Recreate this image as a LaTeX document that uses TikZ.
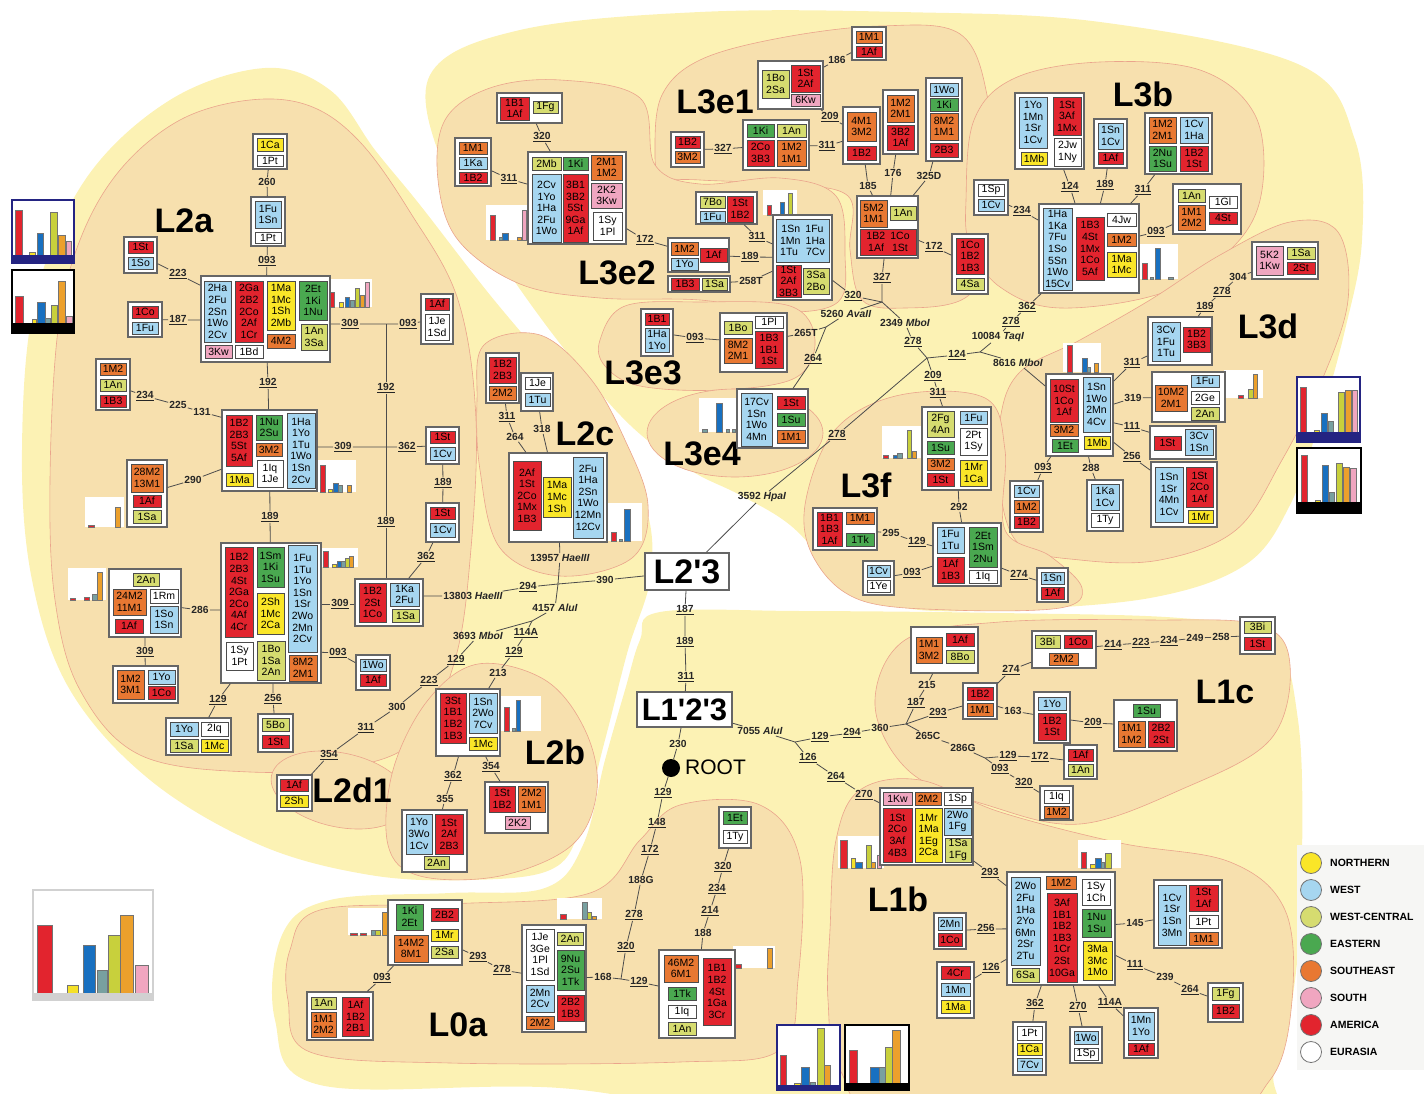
\documentclass[tikz,border=0pt]{standalone}
\usepackage{fontspec}
\setmainfont{Liberation Sans}
\usetikzlibrary{calc}
\definecolor{rd}{RGB}{226,36,46}
\definecolor{bl}{RGB}{166,214,240}
\definecolor{ye}{RGB}{250,230,40}
\definecolor{wc}{RGB}{214,220,112}
\definecolor{gn}{RGB}{74,168,80}
\definecolor{og}{RGB}{232,120,50}
\definecolor{pk}{RGB}{240,166,192}
\definecolor{wh}{RGB}{255,255,255}
\definecolor{tl}{RGB}{120,160,160}
\definecolor{cb}{RGB}{24,112,192}
\definecolor{cy}{RGB}{245,225,40}
\definecolor{cw}{RGB}{200,208,60}
\definecolor{co}{RGB}{236,160,44}
\definecolor{bgy}{RGB}{252,242,180}
\definecolor{tanr}{RGB}{247,224,174}
\definecolor{tanb}{RGB}{234,164,140}
\definecolor{navy}{RGB}{36,36,130}
\definecolor{lgd}{RGB}{246,246,244}
\newcounter{cc}
\newcommand\Grp[5]{\node[grp, minimum width={#4-#2}, minimum height={#5-#3}] (#1) at ({(#2+#4)/2},{(#3+#5)/2}) {};}
\newcommand\Cl[6]{\stepcounter{cc}\node[cel, fill=#5, minimum width={#3-#1}, minimum height={#4-#2}] (q\arabic{cc}) at ({(#1+#3)/2},{(#2+#4)/2}) {#6};}
\newcommand\Lb[4]{\node[lb] (#1) at (#2,#3) {#4};}
\newcommand\Lu[4]{\node[lb] (#1) at (#2,#3) {\underline{#4}};}
\newcommand\MiniC[5]{\fill[white] (#1,#2) rectangle (#3,#4);
  \foreach \qa/\qb/\qt/\qc in {#5}{\filldraw[fill=\qc, draw=black!55, line width=0.3pt] (\qa,\qt) rectangle (\qb,#4);}}
\newcommand\FramC[7]{\fill[white] (#1,#2) rectangle (#3,#4);
  \foreach \qa/\qb/\qt/\qc in {#7}{\filldraw[fill=\qc, draw=black!55, line width=0.3pt] (\qa,\qt) rectangle (\qb,#6);}
  \fill[#5] (#1,#6) rectangle (#3,#4);
  \draw[#5, line width=1.8pt] (#1,#2) rectangle (#3,#4);}
\begin{document}
\begin{tikzpicture}[x=1pt,y=-1pt,
  grp/.style={draw=black!60, line width=1.4pt, fill=white, inner sep=0pt},
  cel/.style={draw=black!70, line width=0.8pt, inner sep=0pt, align=center, font=\fontsize{10.5}{11.6}\selectfont, text=black},
  lb/.style={font=\bfseries\fontsize{10.3}{11}\selectfont, inner sep=1pt, text=black!85},
  big/.style={font=\bfseries\fontsize{34}{34}\selectfont, inner sep=0pt},
  bigbox/.style={draw=black!60, line width=1.8pt, fill=white, inner sep=0pt},
  cn/.style={draw=black!70, line width=0.8pt},
  reg/.style={fill=tanr, draw=tanb, line width=0.6pt}]
\useasboundingbox (0,0) rectangle (1424,1094);
\clip (0,0) rectangle (1424,1094);
% ---------- backgrounds ----------
\fill[bgy] plot[smooth cycle, tension=0.6] coordinates {(22,450) (35,300) (85,180) (170,100) (265,68) (330,90) (375,150) (420,205) (490,295) (560,378) (615,445) (648,515) (650,580) (628,650) (605,740) (580,830) (550,870) (470,880) (370,875) (260,845) (150,780) (70,690) (32,580)};
\fill[bgy] plot[smooth cycle, tension=0.6] coordinates {(430,75) (520,30) (700,12) (900,12) (1100,22) (1300,65) (1355,140) (1362,240) (1345,330) (1320,420) (1290,505) (1245,565) (1150,598) (1000,610) (900,607) (840,575) (790,525) (740,495) (690,470) (630,425) (565,350) (500,260) (445,170)};
\fill[bgy] plot[smooth cycle, tension=0.6] coordinates {(660,612) (800,611) (1000,613) (1180,618) (1270,635) (1298,720) (1302,860) (1295,980) (1275,1070) (1230,1120) (800,1120) (560,1088) (320,1085) (275,1020) (282,935) (330,900) (450,893) (545,888) (583,845) (605,760) (625,690) (640,640)};
\filldraw[reg] plot[smooth cycle, tension=0.6] coordinates {(50,480) (58,330) (80,240) (120,170) (180,120) (250,100) (310,106) (360,142) (410,212) (458,300) (476,420) (470,560) (455,660) (420,735) (360,765) (250,772) (140,755) (80,690) (55,600)};
\filldraw[reg] plot[smooth cycle, tension=0.6] coordinates {(484,345) (540,335) (590,378) (625,440) (648,505) (632,558) (560,576) (500,548) (480,470) (477,400)};
\filldraw[reg, rotate around={-12:(340,790)}] (340,790) ellipse [x radius=70, y radius=37];
\filldraw[reg] plot[smooth cycle, tension=0.6] coordinates {(478,664) (545,680) (585,730) (597,790) (572,845) (500,876) (420,876) (388,845) (393,770) (428,700)};
\filldraw[reg] plot[smooth cycle, tension=0.6] coordinates {(655,150) (662,95) (700,60) (780,38) (880,26) (960,34) (988,100) (992,190) (996,250) (965,298) (905,308) (862,300) (850,250) (848,196) (780,184) (700,180) (662,176)};
\filldraw[reg] plot[smooth cycle, tension=0.6] coordinates {(438,180) (445,120) (490,88) (560,80) (640,98) (655,165) (700,184) (780,178) (836,196) (845,255) (838,302) (780,312) (700,300) (600,298) (520,284) (458,240)};
\filldraw[reg] plot[smooth cycle, tension=0.6] coordinates {(600,340) (625,306) (700,302) (790,306) (815,340) (795,378) (720,390) (640,386) (605,366)};
\filldraw[reg] (735,433) ellipse [x radius=88, y radius=44];
\filldraw[reg] plot[smooth cycle, tension=0.6] coordinates {(966,200) (974,120) (1015,78) (1100,62) (1200,70) (1255,115) (1262,190) (1235,245) (1165,292) (1060,308) (1000,287) (970,245)};
\filldraw[reg] plot[smooth cycle, tension=0.6] coordinates {(1000,420) (1020,372) (1080,340) (1150,300) (1220,255) (1290,222) (1338,232) (1348,300) (1322,380) (1282,460) (1236,530) (1160,560) (1080,560) (1020,545) (1000,490)};
\filldraw[reg] plot[smooth cycle, tension=0.6] coordinates {(805,505) (835,430) (900,395) (985,398) (1005,450) (1005,530) (1050,556) (1082,588) (1060,608) (950,610) (860,600) (815,560)};
\filldraw[reg] plot[smooth cycle, tension=0.6] coordinates {(875,705) (905,640) (1000,622) (1150,620) (1260,625) (1290,665) (1270,740) (1180,790) (1080,824) (990,806) (910,772)};
\filldraw[reg] plot[smooth cycle, tension=0.6] coordinates {(830,930) (836,840) (860,790) (920,780) (1000,812) (1120,843) (1230,862) (1285,910) (1292,1000) (1270,1080) (1200,1115) (900,1115) (840,1070) (828,1000)};
\filldraw[reg] plot[smooth cycle, tension=0.6] coordinates {(290,950) (320,910) (450,904) (590,893) (640,840) (680,805) (760,805) (800,860) (798,980) (780,1050) (680,1062) (450,1063) (310,1052) (288,1000)};
% ---------- region labels ----------
\node[big] (nL2a) at (184,221) {L2a};
\node[big] (nL3e1) at (715,102) {L3e1};
\node[big] (nL3b) at (1143,94) {L3b};
\node[big] (nL3e2) at (617,273) {L3e2};
\node[big] (nL3e3) at (643,373) {L3e3};
\node[big] (nL3d) at (1268,326) {L3d};
\node[big] (nL2c) at (585,434) {L2c};
\node[big] (nL3e4) at (702,454) {L3e4};
\node[big] (nL3f) at (866,485) {L3f};
\node[big] (nL1c) at (1225,692) {L1c};
\node[big] (nL2b) at (555,752) {L2b};
\node[big] (nL2d1) at (352,790) {L2d1};
\node[big] (nL1b) at (898,899) {L1b};
\node[big] (nL0a) at (458,1025) {L0a};
% ---------- charts ----------
\FramC{12}{200}{74}{263}{navy}{255}{15/22/210/rd, 29/35/252/cy, 37/43/233/cb, 50/57/212/cw, 58/65/235/co, 66/71/241/pk}
\FramC{12}{270}{74}{333}{black}{323}{15/23/296/rd, 32/36/319/cy, 37/45/302/cb, 45/50/318/tl, 51/57/305/cw, 58/65/281/co, 66/72/316/pk}
\FramC{1297}{377}{1360}{442}{navy}{432}{1300/1306/387/rd, 1314/1319/430/cy, 1321/1327/413/cb, 1328/1333/421/tl, 1338/1344/392/cw, 1345/1351/390/co, 1352/1357/390/pk}
\FramC{1297}{448}{1361}{513}{black}{502}{1301/1307/455/rd, 1315/1320/500/cy, 1322/1328/465/cb, 1329/1334/492/tl, 1336/1342/463/cw, 1343/1349/467/co, 1350/1356/468/pk}
\FramC{777}{1025}{840}{1090}{navy}{1085}{780/786/1055/rd, 794/800/1083/cy, 801/809/1067/cb, 810/815/1082/tl, 817/824/1028/cw, 824/830/1065/co}
\FramC{845}{1025}{909}{1090}{black}{1083}{849/857/1050/rd, 870/879/1067/cb, 879/885/1067/tl, 885/892/1047/cw, 892/900/1030/co}
\FramC{33}{890}{153}{1000}{black!18}{993}{37/52/925/rd, 67/78/985/cy, 83/95/945/cb, 97/107/970/tl, 108/120/935/cw, 120/133/915/co, 135/148/965/pk}
\MiniC{328}{279}{372}{307}{330/334/292/rd, 339/343/302/cy, 345/349/297/cb, 350/354/300/tl, 355/359/288/cw, 360/364/295/co, 365/369/282/pk}
\MiniC{318}{460}{356}{492}{320/325/465/rd, 328/332/489/cy, 333/338/483/cb, 338/342/485/tl, 347/351/485/co}
\MiniC{320}{548}{358}{567}{323/328/551/rd, 332/336/564/cy, 337/341/561/cb, 341/345/561/tl, 345/349/558/cw, 349/353/556/co}
\MiniC{85}{497}{124}{527}{88/94/525/rd, 115/120/507/co}
\MiniC{68}{568}{106}{600}{70/75/598/rd, 84/89/597/rd, 92/97/594/tl, 97/102/572/co}
\MiniC{607}{503}{642}{541}{611/616/532/rd, 619/622/539/tl, 624/630/509/cb}
\MiniC{501}{696}{541}{731}{504/509/707/rd, 512/515/728/tl, 516/520/700/cb}
\MiniC{486}{205}{527}{240}{490/495/215/rd, 499/502/237/tl, 502/508/233/cb, 517/521/237/co, 522/526/210/pk}
\MiniC{763}{190}{797}{215}{767/771/205/rd, 780/784/202/cb, 788/792/193/cw}
\MiniC{1139}{244}{1178}{279}{1142/1147/263/rd, 1150/1153/277/tl, 1155/1160/248/cb, 1168/1173/277/tl}
\MiniC{1063}{343}{1101}{372}{1067/1072/345/rd, 1082/1087/358/cb, 1087/1090/367/tl, 1094/1098/363/co}
\MiniC{1224}{370}{1263}{398}{1238/1243/395/rd, 1248/1253/389/cw, 1253/1257/374/co}
\MiniC{699}{398}{737}{432}{702/707/429/tl, 716/722/403/cb, 726/729/429/tl, 732/735/429/tl}
\MiniC{882}{426}{921}{458}{883/888/455/rd, 893/897/455/cb, 897/902/453/tl, 907/911/430/cw, 912/916/451/co}
\MiniC{838}{836}{884}{868}{840/847/840/rd, 851/855/858/cy, 855/862/862/cb, 866/871/845/cw, 871/875/862/co, 877/881/855/pk}
\MiniC{1078}{840}{1121}{868}{1081/1086/852/rd, 1090/1095/864/cy, 1095/1101/858/cb, 1101/1104/862/tl, 1105/1111/853/cw}
\MiniC{348}{908}{389}{935}{350/357/933/rd, 360/366/933/rd, 371/375/930/tl, 375/380/930/cw, 382/387/912/co}
\MiniC{557}{898}{602}{919}{560/566/914/rd, 582/587/902/tl, 587/591/912/cw, 592/596/916/co}
\MiniC{733}{946}{775}{968}{735/741/964/rd, 767/772/948/co}
% ---------- L2a ----------
\Grp{a1}{253}{134}{287}{169}
\Cl{257}{138}{283}{151}{ye}{1Ca}
\Cl{257}{155}{283}{166}{wh}{1Pt}
\Grp{a2}{251}{197}{285}{246}
\Cl{255}{201}{281}{228}{bl}{1Fu\\1Sn}
\Cl{255}{232}{281}{243}{wh}{1Pt}
\Grp{a3}{201}{276}{330}{362}
\Cl{204}{281}{231}{342}{bl}{2Ha\\2Fu\\2Sn\\1Wo\\2Cv}
\Cl{235}{281}{263}{342}{rd}{2Ga\\2B2\\2Co\\2Af\\1Cr}
\Cl{267}{281}{295}{330}{ye}{1Ma\\1Mc\\1Sh\\2Mb}
\Cl{267}{334}{295}{348}{og}{4M2}
\Cl{299}{281}{327}{320}{gn}{2Et\\1Ki\\1Nu}
\Cl{301}{324}{327}{350}{wc}{1An\\3Sa}
\Cl{205}{345}{232}{358}{pk}{3Kw}
\Cl{235}{345}{263}{358}{wh}{1Bd}
\Grp{a4}{124}{237}{157}{273}
\Cl{128}{241}{153}{253}{rd}{1St}
\Cl{128}{257}{153}{269}{bl}{1So}
\Grp{a5}{128}{302}{162}{337}
\Cl{132}{306}{158}{318}{rd}{1Co}
\Cl{132}{322}{158}{334}{bl}{1Fu}
\Grp{a6}{96}{359}{130}{410}
\Cl{100}{363}{126}{375}{og}{1M2}
\Cl{100}{379}{126}{391}{wc}{1An}
\Cl{100}{395}{126}{407}{rd}{1B3}
\Grp{a7}{222}{410}{317}{491}
\Cl{226}{415}{252}{466}{rd}{1B2\\2B3\\5St\\5Af}
\Cl{256}{415}{282}{440}{gn}{1Nu\\2Su}
\Cl{256}{443}{282}{456}{og}{3M2}
\Cl{226}{473}{253}{486}{ye}{1Ma}
\Cl{257}{460}{283}{487}{wh}{1Iq\\1Je}
\Cl{287}{413}{315}{488}{bl}{1Ha\\1Yo\\1Tu\\1Wo\\1Sn\\2Cv}
\Grp{a8}{426}{427}{459}{464}
\Cl{430}{431}{455}{443}{rd}{1St}
\Cl{430}{447}{455}{460}{bl}{1Cv}
\Grp{a8b}{426}{503}{459}{542}
\Cl{430}{507}{455}{519}{rd}{1St}
\Cl{430}{523}{455}{537}{bl}{1Cv}
\Grp{a9}{421}{294}{453}{344}
\Cl{425}{298}{449}{310}{rd}{1Af}
\Cl{425}{314}{449}{340}{wh}{1Je\\1Sd}
\Grp{a10}{355}{579}{423}{626}
\Cl{359}{583}{386}{622}{rd}{1B2\\2St\\1Co}
\Cl{390}{583}{419}{606}{bl}{1Ka\\2Fu}
\Cl{392}{609}{419}{622}{wc}{1Sa}
\Grp{a11}{221}{543}{321}{683}
\Cl{225}{547}{253}{637}{rd}{1B2\\2B3\\4St\\2Ga\\2Co\\4Af\\4Cr}
\Cl{257}{547}{284}{587}{gn}{1Sm\\1Ki\\1Su}
\Cl{257}{593}{284}{634}{ye}{2Sh\\1Mc\\2Ca}
\Cl{226}{642}{253}{670}{wh}{1Sy\\1Pt}
\Cl{257}{641}{285}{680}{wc}{1Bo\\1Sa\\2An}
\Cl{288}{545}{317}{652}{bl}{1Fu\\1Tu\\1Yo\\1Sn\\1Sr\\2Wo\\2Mn\\2Cv}
\Cl{289}{655}{317}{681}{og}{8M2\\2M1}
\Grp{a12}{127}{460}{167}{527}
\Cl{131}{464}{163}{492}{og}{28M2\\13M1}
\Cl{133}{495}{161}{507}{rd}{1Af}
\Cl{133}{510}{161}{523}{wc}{1Sa}
\Grp{a13}{109}{569}{181}{637}
\Cl{133}{573}{159}{586}{wc}{2An}
\Cl{113}{589}{146}{615}{og}{24M2\\11M1}
\Cl{150}{589}{178}{603}{wh}{1Rm}
\Cl{150}{606}{178}{633}{bl}{1So\\1Sn}
\Cl{115}{619}{143}{633}{rd}{1Af}
\Grp{a14}{113}{666}{178}{703}
\Cl{117}{670}{144}{699}{og}{1M2\\3M1}
\Cl{148}{670}{175}{684}{bl}{1Yo}
\Cl{148}{686}{175}{699}{rd}{1Co}
\Grp{a15}{166}{718}{231}{755}
\Cl{170}{722}{198}{736}{bl}{1Yo}
\Cl{201}{722}{228}{736}{wh}{2Iq}
\Cl{170}{739}{198}{752}{wc}{1Sa}
\Cl{201}{739}{228}{752}{ye}{1Mc}
\Grp{a16}{258}{714}{293}{752}
\Cl{262}{718}{289}{731}{wc}{5Bo}
\Cl{262}{735}{289}{748}{rd}{1St}
\Grp{a17}{356}{655}{390}{690}
\Cl{360}{659}{386}{671}{bl}{1Wo}
\Cl{360}{674}{386}{686}{rd}{1Af}
% ---------- L2c, L2b, L2d1 ----------
\Grp{c1}{486}{353}{519}{403}
\Cl{489}{357}{516}{383}{rd}{1B2\\2B3}
\Cl{489}{386}{516}{400}{og}{2M2}
\Grp{c2}{521}{373}{553}{411}
\Cl{525}{377}{550}{389}{wh}{1Je}
\Cl{525}{393}{550}{406}{bl}{1Tu}
\Grp{c3}{509}{453}{607}{542}
\Cl{513}{461}{541}{530}{rd}{2Af\\1St\\2Co\\1Mx\\1B3}
\Cl{543}{477}{571}{517}{ye}{1Ma\\1Mc\\1Sh}
\Cl{573}{457}{603}{538}{bl}{2Fu\\1Ha\\2Sn\\1Wo\\12Mn\\12Cv}
\Grp{b1}{436}{689}{500}{756}
\Cl{440}{693}{466}{743}{rd}{3St\\1B1\\1B2\\1B3}
\Cl{469}{693}{497}{733}{bl}{1Sn\\2Wo\\7Cv}
\Cl{469}{737}{497}{750}{ye}{1Mc}
\Grp{b2}{402}{810}{467}{872}
\Cl{406}{814}{432}{854}{bl}{1Yo\\3Wo\\1Cv}
\Cl{435}{814}{463}{854}{rd}{1St\\2Af\\2B3}
\Cl{424}{856}{449}{869}{wc}{2An}
\Grp{b3}{485}{782}{548}{833}
\Cl{489}{786}{515}{812}{rd}{1St\\1B2}
\Cl{518}{786}{545}{812}{og}{2M2\\1M1}
\Cl{505}{816}{530}{829}{pk}{2K2}
\Grp{d1g}{277}{775}{312}{811}
\Cl{280}{779}{308}{791}{rd}{1Af}
\Cl{280}{795}{308}{807}{ye}{2Sh}
% ---------- L3e1 ----------
\Grp{e1a}{852}{27}{886}{60}
\Cl{856}{31}{882}{43}{og}{1M1}
\Cl{856}{46}{882}{57}{rd}{1Af}
\Grp{e1b}{758}{61}{823}{109}
\Cl{762}{70}{789}{98}{wc}{1Bo\\2Sa}
\Cl{791}{65}{820}{92}{rd}{1St\\2Af}
\Cl{791}{94}{820}{106}{pk}{6Kw}
\Grp{e1c}{843}{107}{880}{164}
\Cl{847}{112}{876}{141}{og}{4M1\\3M2}
\Cl{847}{146}{876}{160}{rd}{1B2}
\Grp{e1d}{883}{90}{918}{154}
\Cl{887}{95}{914}{122}{og}{1M2\\2M1}
\Cl{887}{125}{914}{150}{rd}{3B2\\1Af}
\Grp{e1e}{926}{78}{962}{161}
\Cl{930}{83}{958}{96}{bl}{1Wo}
\Cl{930}{98}{958}{111}{gn}{1Ki}
\Cl{930}{113}{958}{140}{og}{8M2\\1M1}
\Cl{930}{143}{958}{157}{rd}{2B3}
\Grp{e1f}{952}{234}{988}{294}
\Cl{956}{238}{984}{274}{rd}{1Co\\1B2\\1B3}
\Cl{956}{278}{984}{290}{wc}{4Sa}
\Grp{e1g}{743}{120}{809}{170}
\Cl{747}{124}{774}{137}{gn}{1Ki}
\Cl{777}{124}{806}{137}{wc}{1An}
\Cl{747}{140}{774}{166}{rd}{2Co\\3B3}
\Cl{777}{140}{806}{166}{og}{1M2\\1M1}
\Grp{e1h}{671}{132}{704}{167}
\Cl{675}{136}{700}{148}{rd}{1B2}
\Cl{675}{151}{700}{163}{og}{3M2}
\Grp{e1j}{857}{196}{918}{258}
\Cl{860}{200}{887}{227}{og}{5M2\\1M1}
\Cl{890}{206}{916}{220}{wc}{1An}
\Cl{860}{229}{916}{255}{rd}{1B2\enspace 1Co\\1Af\enspace\ 1St}
% ---------- L3e2, L3e3, L3e4 ----------
\Grp{e2a}{497}{93}{562}{123}
\Cl{500}{97}{529}{120}{rd}{1B1\\1Af}
\Cl{533}{101}{558}{113}{wc}{1Fg}
\Grp{e2b}{455}{138}{491}{186}
\Cl{459}{142}{487}{154}{og}{1M1}
\Cl{459}{157}{487}{169}{bl}{1Ka}
\Cl{459}{172}{487}{183}{rd}{1B2}
\Grp{e2m}{528}{152}{626}{244}
\Cl{532}{157}{561}{170}{wc}{2Mb}
\Cl{563}{157}{588}{170}{gn}{1Ki}
\Cl{591}{155}{622}{180}{og}{2M1\\1M2}
\Cl{591}{183}{622}{208}{pk}{2K2\\3Kw}
\Cl{593}{212}{622}{240}{wh}{1Sy\\1Pl}
\Cl{532}{174}{561}{242}{bl}{2Cv\\1Yo\\1Ha\\2Fu\\1Wo}
\Cl{563}{174}{588}{242}{rd}{3B1\\3B2\\5St\\9Ga\\1Af}
\Grp{e2c}{668}{238}{729}{272}
\Cl{671}{242}{698}{255}{og}{1M2}
\Cl{671}{258}{698}{270}{bl}{1Yo}
\Cl{700}{248}{727}{262}{rd}{1Af}
\Grp{e2d}{668}{276}{730}{292}
\Cl{671}{278}{699}{290}{rd}{1B3}
\Cl{702}{278}{727}{290}{wc}{1Sa}
\Grp{e2e}{696}{192}{757}{224}
\Cl{700}{196}{725}{208}{wc}{7Bo}
\Cl{700}{211}{725}{222}{bl}{1Fu}
\Cl{727}{196}{753}{222}{rd}{1St\\1B2}
\Grp{e2big}{773}{215}{832}{300}
\Cl{776}{219}{829}{262}{bl}{1Sn\enspace 1Fu\\1Mn\enspace 1Ha\\1Tu\enspace\ 7Cv}
\Cl{776}{265}{801}{297}{rd}{1St\\2Af\\3B3}
\Cl{803}{268}{829}{294}{wc}{3Sa\\2Bo}
\Grp{e3a}{641}{309}{673}{356}
\Cl{645}{313}{669}{325}{rd}{1B1}
\Cl{645}{328}{669}{352}{bl}{1Ha\\1Yo}
\Grp{e3b}{720}{313}{787}{372}
\Cl{724}{321}{752}{334}{wc}{1Bo}
\Cl{724}{338}{752}{363}{og}{8M2\\2M1}
\Cl{755}{316}{783}{328}{wh}{1Pl}
\Cl{755}{331}{783}{368}{rd}{1B3\\1B1\\1St}
\Grp{e4}{737}{389}{808}{448}
\Cl{741}{393}{772}{446}{bl}{17Cv\\1Sn\\1Wo\\4Mn}
\Cl{777}{396}{805}{409}{rd}{1St}
\Cl{777}{413}{805}{426}{gn}{1Su}
\Cl{777}{430}{805}{443}{og}{1M1}
% ---------- L3b ----------
\Grp{b1g}{1015}{93}{1084}{169}
\Cl{1019}{97}{1047}{148}{bl}{1Yo\\1Mn\\1Sr\\1Cv}
\Cl{1053}{97}{1081}{135}{rd}{1St\\3Af\\1Mx}
\Cl{1021}{152}{1047}{165}{ye}{1Mb}
\Cl{1054}{138}{1081}{166}{wh}{2Jw\\1Ny}
\Grp{b2g}{1094}{119}{1127}{168}
\Cl{1098}{123}{1123}{149}{bl}{1Sn\\1Cv}
\Cl{1098}{152}{1123}{164}{rd}{1Af}
\Grp{b3g}{1145}{113}{1212}{174}
\Cl{1149}{117}{1176}{143}{og}{1M2\\2M1}
\Cl{1180}{117}{1208}{143}{bl}{1Cv\\1Ha}
\Cl{1149}{146}{1176}{171}{gn}{2Nu\\1Su}
\Cl{1180}{146}{1208}{171}{rd}{1B2\\1St}
\Grp{b4g}{974}{180}{1008}{215}
\Cl{978}{184}{1004}{196}{wh}{1Sp}
\Cl{978}{199}{1004}{211}{bl}{1Cv}
\Grp{bm}{1039}{204}{1139}{293}
\Cl{1043}{208}{1072}{290}{bl}{1Ha\\1Ka\\7Fu\\1So\\5Sn\\1Wo\\15Cv}
\Cl{1076}{217}{1104}{280}{rd}{1B3\\4St\\1Mx\\1Co\\5Af}
\Cl{1107}{213}{1136}{226}{wh}{4Jw}
\Cl{1107}{233}{1136}{246}{og}{1M2}
\Cl{1107}{252}{1136}{277}{ye}{1Ma\\1Mc}
\Grp{b5g}{1173}{184}{1241}{234}
\Cl{1178}{189}{1205}{202}{wc}{1An}
\Cl{1178}{205}{1205}{230}{og}{1M1\\2M2}
\Cl{1209}{196}{1237}{208}{wh}{1Gl}
\Cl{1209}{212}{1237}{224}{rd}{4St}
% ---------- L3d ----------
\Grp{dm}{1046}{374}{1113}{456}
\Cl{1050}{379}{1078}{422}{rd}{10St\\1Co\\1Af}
\Cl{1083}{377}{1110}{432}{bl}{1Sn\\1Wo\\2Mn\\4Cv}
\Cl{1050}{424}{1078}{436}{og}{3M2}
\Cl{1052}{439}{1078}{452}{gn}{1Et}
\Cl{1084}{436}{1110}{449}{ye}{1Mb}
\Grp{dd1}{1148}{317}{1212}{365}
\Cl{1152}{322}{1180}{361}{bl}{3Cv\\1Fu\\1Tu}
\Cl{1183}{327}{1210}{352}{rd}{1B2\\3B3}
\Grp{dd2}{1252}{242}{1318}{279}
\Cl{1256}{246}{1283}{275}{pk}{5K2\\1Kw}
\Cl{1287}{247}{1315}{259}{wc}{1Sa}
\Cl{1287}{262}{1315}{274}{rd}{2St}
\Grp{dd3}{1152}{372}{1225}{422}
\Cl{1155}{385}{1187}{411}{og}{10M2\\2M1}
\Cl{1191}{375}{1219}{387}{bl}{1Fu}
\Cl{1191}{391}{1219}{404}{wh}{2Ge}
\Cl{1191}{407}{1219}{420}{wc}{2An}
\Grp{dd4}{1150}{426}{1216}{459}
\Cl{1154}{436}{1181}{450}{rd}{1St}
\Cl{1185}{429}{1213}{455}{bl}{3Cv\\1Sn}
\Grp{dd5}{1151}{462}{1217}{527}
\Cl{1155}{467}{1183}{522}{bl}{1Sn\\1Sr\\4Mn\\1Cv}
\Cl{1186}{467}{1213}{507}{rd}{1St\\2Co\\1Af}
\Cl{1188}{510}{1213}{523}{ye}{1Mr}
\Grp{dd6}{1010}{481}{1043}{532}
\Cl{1014}{485}{1039}{497}{bl}{1Cv}
\Cl{1014}{500}{1039}{513}{og}{1M2}
\Cl{1014}{516}{1039}{528}{rd}{1B2}
\Grp{dd7}{1087}{480}{1123}{531}
\Cl{1091}{484}{1119}{510}{bl}{1Ka\\1Cv}
\Cl{1091}{513}{1119}{527}{wh}{1Ty}
% ---------- L3f ----------
\Grp{fm}{922}{407}{991}{490}
\Cl{927}{411}{954}{437}{wc}{2Fg\\4An}
\Cl{960}{411}{987}{424}{bl}{1Fu}
\Cl{960}{428}{987}{455}{wh}{2Pt\\1Sy}
\Cl{927}{441}{954}{454}{gn}{1Su}
\Cl{927}{458}{954}{470}{og}{3M2}
\Cl{927}{473}{954}{486}{rd}{1St}
\Cl{960}{460}{987}{486}{ye}{1Mr\\1Ca}
\Grp{f1}{813}{508}{877}{550}
\Cl{817}{512}{842}{546}{rd}{1B1\\1B3\\1Af}
\Cl{846}{512}{874}{524}{og}{1M1}
\Cl{846}{533}{874}{546}{gn}{1Tk}
\Grp{f2}{933}{523}{1001}{586}
\Cl{937}{527}{964}{553}{bl}{1Fu\\1Tu}
\Cl{969}{527}{997}{567}{gn}{2Et\\1Sm\\2Nu}
\Cl{937}{557}{964}{583}{rd}{1Af\\1B3}
\Cl{969}{570}{997}{583}{wh}{1Iq}
\Grp{f3}{863}{561}{894}{595}
\Cl{867}{565}{890}{577}{bl}{1Cv}
\Cl{867}{580}{890}{592}{wh}{1Ye}
\Grp{f4}{1037}{568}{1068}{602}
\Cl{1041}{572}{1064}{584}{bl}{1Sn}
\Cl{1041}{587}{1064}{599}{rd}{1Af}
% ---------- L1c ----------
\Grp{g1}{911}{627}{978}{673}
\Cl{916}{637}{942}{663}{og}{1M1\\3M2}
\Cl{946}{633}{974}{646}{rd}{1Af}
\Cl{946}{650}{974}{663}{wc}{8Bo}
\Grp{g2}{963}{683}{997}{719}
\Cl{967}{687}{993}{700}{rd}{1B2}
\Cl{967}{703}{993}{716}{og}{1M1}
\Grp{g3}{1032}{631}{1096}{668}
\Cl{1035}{635}{1060}{648}{wc}{3Bi}
\Cl{1064}{635}{1092}{648}{rd}{1Co}
\Cl{1049}{653}{1078}{665}{og}{2M2}
\Grp{g4}{1240}{617}{1275}{654}
\Cl{1244}{621}{1271}{633}{wc}{3Bi}
\Cl{1244}{637}{1271}{650}{rd}{1St}
\Grp{g5}{1034}{692}{1070}{743}
\Cl{1038}{697}{1066}{710}{bl}{1Yo}
\Cl{1038}{713}{1066}{740}{rd}{1B2\\1St}
\Grp{g6}{1114}{700}{1177}{751}
\Cl{1133}{704}{1160}{717}{gn}{1Su}
\Cl{1118}{721}{1145}{747}{og}{1M1\\1M2}
\Cl{1148}{721}{1174}{747}{rd}{2B2\\2St}
\Grp{g7}{1064}{745}{1097}{779}
\Cl{1068}{749}{1093}{761}{rd}{1Af}
\Cl{1068}{764}{1093}{776}{wc}{1An}
\Grp{g8}{1040}{786}{1073}{820}
\Cl{1044}{790}{1069}{803}{wh}{1Iq}
\Cl{1044}{806}{1069}{818}{og}{1M2}
% ---------- L1b ----------
\Grp{h1}{880}{788}{973}{865}
\Cl{883}{792}{912}{805}{pk}{1Kw}
\Cl{915}{792}{941}{805}{og}{2M2}
\Cl{944}{792}{971}{805}{wh}{1Sp}
\Cl{883}{808}{912}{862}{rd}{1St\\2Co\\3Af\\4B3}
\Cl{915}{808}{942}{862}{ye}{1Mr\\1Ma\\1Eg\\2Ca}
\Cl{944}{808}{971}{835}{bl}{2Wo\\1Fg}
\Cl{945}{838}{971}{862}{wc}{1Sa\\1Fg}
\Grp{hm}{1007}{872}{1115}{985}
\Cl{1011}{877}{1040}{965}{bl}{2Wo\\2Fu\\1Ha\\2Yo\\6Mn\\2Sr\\2Tu}
\Cl{1012}{968}{1039}{982}{wc}{6Sa}
\Cl{1046}{876}{1076}{889}{og}{1M2}
\Cl{1047}{893}{1077}{982}{rd}{3Af\\1B1\\1B2\\1B3\\1Cr\\2St\\10Ga}
\Cl{1082}{879}{1110}{905}{wh}{1Sy\\1Ch}
\Cl{1082}{909}{1111}{937}{gn}{1Nu\\1Su}
\Cl{1083}{941}{1112}{980}{ye}{3Ma\\3Mc\\1Mo}
\Grp{h2}{934}{913}{966}{949}
\Cl{938}{917}{962}{930}{bl}{2Mn}
\Cl{938}{933}{962}{946}{rd}{1Co}
\Grp{h3}{937}{962}{974}{1018}
\Cl{941}{966}{970}{979}{rd}{4Cr}
\Cl{941}{983}{970}{996}{bl}{1Mn}
\Cl{941}{1000}{970}{1013}{ye}{1Ma}
\Grp{h4}{1154}{880}{1222}{948}
\Cl{1158}{885}{1186}{945}{bl}{1Cv\\1Sr\\1Sn\\3Mn}
\Cl{1189}{885}{1218}{911}{rd}{1St\\1Af}
\Cl{1189}{915}{1218}{928}{wh}{1Pt}
\Cl{1189}{932}{1218}{945}{og}{1M1}
\Grp{h5}{1208}{983}{1243}{1022}
\Cl{1212}{987}{1239}{1000}{wc}{1Fg}
\Cl{1212}{1004}{1239}{1018}{rd}{1B2}
\Grp{h6}{1013}{1022}{1046}{1075}
\Cl{1017}{1026}{1042}{1040}{wh}{1Pt}
\Cl{1017}{1043}{1042}{1055}{ye}{1Ca}
\Cl{1017}{1058}{1042}{1071}{bl}{7Cv}
\Grp{h7}{1070}{1027}{1102}{1063}
\Cl{1074}{1031}{1098}{1044}{bl}{1Wo}
\Cl{1074}{1048}{1098}{1060}{wh}{1Sp}
\Grp{h8}{1124}{1008}{1158}{1058}
\Cl{1128}{1012}{1154}{1040}{bl}{1Mn\\1Yo}
\Cl{1128}{1043}{1154}{1055}{rd}{1Af}
% ---------- L0a ----------
\Grp{k1}{388}{900}{462}{965}
\Cl{396}{904}{423}{930}{gn}{1Ki\\2Et}
\Cl{394}{935}{428}{962}{og}{14M2\\8M1}
\Cl{431}{908}{458}{921}{rd}{2B2}
\Cl{431}{929}{458}{941}{ye}{1Mr}
\Cl{431}{946}{458}{958}{wc}{2Sa}
\Grp{k2}{307}{992}{373}{1040}
\Cl{311}{997}{336}{1009}{wc}{1An}
\Cl{311}{1012}{336}{1037}{og}{1M1\\2M2}
\Cl{342}{997}{369}{1036}{rd}{1Af\\1B2\\2B1}
\Grp{k3}{522}{925}{586}{1032}
\Cl{526}{929}{554}{980}{wh}{1Je\\3Ge\\1Pl\\1Sd}
\Cl{557}{932}{583}{945}{wc}{2An}
\Cl{557}{950}{584}{990}{gn}{9Nu\\2Su\\1Tk}
\Cl{526}{985}{554}{1012}{bl}{2Mn\\2Cv}
\Cl{557}{995}{584}{1021}{rd}{2B2\\1B3}
\Cl{526}{1016}{554}{1029}{og}{2M2}
\Grp{k4}{659}{950}{735}{1038}
\Cl{664}{955}{698}{982}{og}{46M2\\6M1}
\Cl{668}{987}{696}{1000}{gn}{1Tk}
\Cl{668}{1005}{696}{1018}{wh}{1Iq}
\Cl{668}{1022}{696}{1035}{wc}{1An}
\Cl{703}{958}{731}{1025}{rd}{1B1\\1B2\\4St\\1Ga\\3Cr}
\Grp{k5}{719}{807}{751}{848}
\Cl{723}{811}{747}{824}{gn}{1Et}
\Cl{723}{830}{747}{843}{wh}{1Ty}
% ---------- hubs ----------
\node[bigbox, minimum width=84pt, minimum height=37pt, font=\bfseries\fontsize{34}{34}\selectfont] (L23) at (687,571.5) {L2\textquotesingle3};
\node[bigbox, minimum width=95pt, minimum height=35pt, font=\bfseries\fontsize{31}{31}\selectfont] (L123) at (684.5,709.5) {L1\textquotesingle2\textquotesingle3};
\node[circle, fill=black, minimum size=18pt, inner sep=0pt] (root) at (671,768) {};
\node[anchor=west, font=\fontsize{21}{21}\selectfont, inner sep=0pt] (rootl) at (685,767) {ROOT};
\coordinate (J1) at (386,324);
\coordinate (J2) at (558,584);
\coordinate (J3) at (532,621);
\coordinate (J4) at (621,979);
\coordinate (J5) at (906,724);
\coordinate (J6) at (985,758);
\coordinate (J7) at (795,742);
\coordinate (JA) at (882,302);
\coordinate (JB) at (826,327);
\coordinate (JC) at (927,358);
\coordinate (JD) at (980,352);
% ---------- labels ----------
\Lb{t260}{267}{182}{260}
\Lu{t093a}{267}{261}{093}
\Lu{t223a}{178}{274}{223}
\Lu{t187a}{178}{320}{187}
\Lu{t234a}{145}{396}{234}
\Lb{t225a}{178}{405}{225}
\Lb{t131a}{202}{412}{131}
\Lu{t192a}{268}{383}{192}
\Lu{t309a}{350}{324}{309}
\Lu{t093b}{408}{324}{093}
\Lu{t192b}{386}{388}{192}
\Lu{t189b}{386}{522}{189}
\Lu{t309b}{343}{447}{309}
\Lu{t362a}{407}{447}{362}
\Lu{t189c}{443}{483}{189}
\Lu{t362b}{426}{557}{362}
\Lb{t290}{193}{480}{290}
\Lu{t189d}{270}{517}{189}
\Lb{t286}{200}{610}{286}
\Lu{t309c}{340}{604}{309}
\Lu{t309d}{145}{652}{309}
\Lu{t129a}{218}{700}{129}
\Lu{t256a}{273}{699}{256}
\Lu{t093c}{338}{653}{093}
\Lb{t390}{605}{580}{390}
\Lu{t294a}{528}{587}{294}
\Lb{t13803}{473}{596}{13803 \textit{HaeIII}}
\Lb{t13957}{560}{558}{13957 \textit{HaeIII}}
\Lb{t4157}{555}{608}{4157 \textit{AluI}}
\Lb{t3693}{478}{636}{3693 \textit{MboI}}
\Lu{t114a}{526}{633}{114A}
\Lu{t129b}{456}{660}{129}
\Lu{t223b}{429}{681}{223}
\Lb{t300}{397}{707}{300}
\Lu{t311a}{366}{728}{311}
\Lu{t354a}{329}{755}{354}
\Lu{t129c}{514}{652}{129}
\Lb{t213}{498}{673}{213}
\Lu{t362c}{453}{776}{362}
\Lb{t355}{445}{799}{355}
\Lu{t354b}{491}{767}{354}
\Lu{t311b}{507}{417}{311}
\Lb{t264a}{515}{437}{264}
\Lb{t318}{542}{429}{318}
\Lu{t187b}{685}{610}{187}
\Lu{t189e}{685}{642}{189}
\Lu{t311c}{686}{677}{311}
\Lb{t230}{678}{744}{230}
\Lu{t129d}{663}{793}{129}
\Lu{t148}{657}{823}{148}
\Lu{t172a}{650}{850}{172}
\Lb{t188g}{641}{880}{188G}
\Lu{t278a}{634}{915}{278}
\Lu{t320a}{626}{947}{320}
\Lb{t168}{603}{977}{168}
\Lu{t129e}{639}{982}{129}
\Lu{t278b}{502}{970}{278}
\Lu{t293a}{478}{957}{293}
\Lu{t093d}{382}{978}{093}
\Lb{t188}{703}{933}{188}
\Lu{t214a}{710}{911}{214}
\Lu{t234b}{717}{889}{234}
\Lu{t320b}{723}{867}{320}
\Lb{t7055}{760}{731}{7055 \textit{AluI}}
\Lu{t129f}{820}{737}{129}
\Lu{t294b}{852}{733}{294}
\Lb{t360}{880}{728}{360}
\Lu{t187c}{916}{703}{187}
\Lb{t215}{927}{685}{215}
\Lu{t293b}{938}{713}{293}
\Lb{t265c}{928}{736}{265C}
\Lb{t286g}{963}{748}{286G}
\Lu{t129g}{1008}{756}{129}
\Lu{t172b}{1040}{757}{172}
\Lu{t093e}{1000}{769}{093}
\Lu{t320c}{1024}{783}{320}
\Lu{t274a}{1011}{670}{274}
\Lu{t214b}{1113}{645}{214}
\Lu{t223c}{1141}{643}{223}
\Lu{t234c}{1169}{641}{234}
\Lb{t249}{1195}{638}{249}
\Lb{t258}{1221}{637}{258}
\Lb{t163}{1013}{711}{163}
\Lu{t209a}{1093}{723}{209}
\Lu{t126a}{808}{758}{126}
\Lu{t264b}{836}{777}{264}
\Lu{t270a}{864}{795}{270}
\Lu{t293c}{990}{873}{293}
\Lu{t256b}{986}{929}{256}
\Lu{t126b}{991}{968}{126}
\Lb{t145}{1135}{923}{145}
\Lu{t111a}{1135}{965}{111}
\Lb{t239}{1165}{977}{239}
\Lu{t264c}{1190}{990}{264}
\Lu{t362d}{1035}{1004}{362}
\Lu{t270b}{1078}{1007}{270}
\Lu{t114b}{1110}{1003}{114A}
\Lb{t3592}{762}{497}{3592 \textit{HpaI}}
\Lu{t278c}{837}{435}{278}
\Lu{t124a}{957}{355}{124}
\Lb{t10084}{998}{337}{10084 \textit{TaqI}}
\Lu{t278d}{1011}{322}{278}
\Lu{t362e}{1027}{307}{362}
\Lb{t8616}{1018}{363}{8616 \textit{MboI}}
\Lu{t209b}{933}{376}{209}
\Lu{t311d}{938}{393}{311}
\Lu{t278e}{913}{342}{278}
\Lb{t2349}{905}{323}{2349 \textit{MboI}}
\Lu{t327a}{882}{278}{327}
\Lu{t320d}{853}{296}{320}
\Lb{t5260}{846}{314}{5260 \textit{AvaII}}
\Lb{t265t}{806}{333}{265T}
\Lu{t264d}{813}{359}{264}
\Lb{t185}{868}{186}{185}
\Lb{t176}{893}{173}{176}
\Lb{t325d}{929}{176}{325D}
\Lu{t172c}{934}{247}{172}
\Lu{t209c}{830}{117}{209}
\Lb{t186}{837}{60}{186}
\Lu{t311e}{827}{146}{311}
\Lu{t327b}{723}{149}{327}
\Lu{t320e}{542}{137}{320}
\Lu{t311f}{509}{179}{311}
\Lu{t172d}{645}{240}{172}
\Lu{t189f}{750}{257}{189}
\Lb{t258t}{751}{281}{258T}
\Lu{t311g}{757}{237}{311}
\Lu{t093f}{695}{338}{093}
\Lu{t124b}{1070}{187}{124}
\Lu{t189g}{1105}{185}{189}
\Lu{t311h}{1143}{190}{311}
\Lu{t234d}{1022}{211}{234}
\Lu{t093g}{1156}{232}{093}
\Lu{t311i}{1132}{363}{311}
\Lu{t189h}{1205}{307}{189}
\Lu{t278f}{1222}{292}{278}
\Lb{t304}{1238}{277}{304}
\Lb{t319}{1133}{398}{319}
\Lu{t111b}{1132}{427}{111}
\Lu{t256c}{1132}{457}{256}
\Lu{t093h}{1043}{468}{093}
\Lb{t288}{1091}{468}{288}
\Lb{t292}{959}{507}{292}
\Lb{t295}{891}{533}{295}
\Lu{t129h}{917}{542}{129}
\Lu{t093i}{912}{573}{093}
\Lu{t274b}{1019}{575}{274}
% ---------- connectors ----------
\draw[cn] (a1) -- (t260) -- (a2);
\draw[cn] (a2) -- (t093a) -- (a3);
\draw[cn] (a4) -- (t223a) -- ([yshift=-10pt]a3.north west);
\draw[cn] (a5) -- (t187a) -- (a3.west |- t187a);
\draw[cn] (a6) -- (t234a) -- (t225a) -- (t131a) -- ([yshift=-8pt]a7.north west);
\draw[cn] (a3) -- (t192a) -- (a7);
\draw[cn] (a3.east |- t309a) -- (t309a) -- (J1) -- (t093b) -- (a9);
\draw[cn] (J1) -- (t192b) -- (t189b) -- (a10.north -| J1);
\draw[cn] (a7.east |- t309b) -- (t309b) -- (t362a) -- (a8);
\draw[cn] (a8) -- (t189c) -- (a8b);
\draw[cn] (a8b) -- (t362b) -- (a10);
\draw[cn] (a12) -- (t290) -- ([yshift=-60pt]a7.north west);
\draw[cn] (a7) -- (t189d) -- (a11);
\draw[cn] (a13) -- (t286) -- (a11.west |- t286);
\draw[cn] (a11.east |- t309c) -- (t309c) -- (a10.west |- t309c);
\draw[cn] (a13) -- (t309d) -- (a14);
\draw[cn] ([xshift=10pt]a11.south west) -- (t129a) -- (a15);
\draw[cn] (a11.south -| t256a) -- (t256a) -- (a16);
\draw[cn] ([yshift=-110pt]a11.north east) -- (t093c) -- (a17);
\draw[cn] (L23) -- (t390) -- (J2) -- (t294a) -- (t13803) -- (a10.east |- t13803);
\draw[cn] (J2) -- (t13957) -- (c3);
\draw[cn] (J2) -- (t4157) -- (J3);
\draw[cn] (J3) -- (t3693) -- (t129b) -- (t223b) -- (t300) -- (t311a) -- (t354a) -- (d1g);
\draw[cn] (J3) -- (t114a) -- (t129c) -- (t213) -- (b1);
\draw[cn] (b1) -- (t362c) -- (t355) -- (b2);
\draw[cn] (b1) -- (t354b) -- (b3);
\draw[cn] (c1) -- (t311b) -- (t264a) -- (c3);
\draw[cn] (c2) -- (t318) -- (c3);
\draw[cn] (L23) -- (t187b) -- (t189e) -- (t311c) -- (L123);
\draw[cn] (L123) -- (t230) -- (root) -- (t129d) -- (t148) -- (t172a) -- (t188g) -- (t278a) -- (t320a) -- (J4);
\draw[cn] (J4) -- (t168) -- (k3);
\draw[cn] (J4) -- (t129e) -- (k4);
\draw[cn] (k3) -- (t278b) -- (t293a) -- (k1);
\draw[cn] (k1) -- (t093d) -- (k2);
\draw[cn] (k4) -- (t188) -- (t214a) -- (t234b) -- (t320b) -- (k5);
\draw[cn] (L123) -- (t7055) -- (J7);
\draw[cn] (J7) -- (t129f) -- (t294b) -- (t360) -- (J5);
\draw[cn] (J7) -- (t126a) -- (t264b) -- (t270a) -- (h1);
\draw[cn] (J5) -- (t187c) -- (t215) -- (g1);
\draw[cn] (J5) -- (t293b) -- (g2);
\draw[cn] (J5) -- (t265c) -- (t286g) -- (J6);
\draw[cn] (J6) -- (t129g) -- (t172b) -- (g7);
\draw[cn] (J6) -- (t093e) -- (t320c) -- (g8);
\draw[cn] (g2) -- (t274a) -- (g3);
\draw[cn] (g3) -- (t214b) -- (t223c) -- (t234c) -- (t249) -- (t258) -- (g4);
\draw[cn] (g2) -- (t163) -- (g5);
\draw[cn] (g5) -- (t209a) -- (g6);
\draw[cn] (h1) -- (t293c) -- (hm);
\draw[cn] (hm) -- (t256b) -- (h2);
\draw[cn] (hm) -- (t126b) -- (h3);
\draw[cn] (hm) -- (t145) -- (h4);
\draw[cn] (hm) -- (t111a) -- (t239) -- (t264c) -- (h5);
\draw[cn] (hm) -- (t362d) -- (h6);
\draw[cn] (hm) -- (t270b) -- (h7);
\draw[cn] (hm) -- (t114b) -- (h8);
\draw[cn] (L23) -- (t3592) -- (t278c) -- (JC);
\draw[cn] (JC) -- (t124a) -- (JD);
\draw[cn] (JD) -- (t10084) -- (t278d) -- (t362e) -- (bm);
\draw[cn] (JD) -- (t8616) -- (dm);
\draw[cn] (JC) -- (t209b) -- (t311d) -- (fm);
\draw[cn] (JC) -- (t278e) -- (t2349) -- (JA);
\draw[cn] (JA) -- (t327a) -- (e1j);
\draw[cn] (JA) -- (t320d) -- (e2big);
\draw[cn] (JA) -- (t5260) -- (JB);
\draw[cn] (JB) -- (t265t) -- (e3b);
\draw[cn] (JB) -- (t264d) -- (e4);
\draw[cn] (e1j) -- (t185) -- (e1c);
\draw[cn] (e1j) -- (t176) -- (e1d);
\draw[cn] (e1j) -- (t325d) -- (e1e);
\draw[cn] (e1j) -- (t172c) -- (e1f);
\draw[cn] (e1c) -- (t209c) -- (e1b);
\draw[cn] (e1b) -- (t186) -- (e1a);
\draw[cn] (e1c) -- (t311e) -- (e1g);
\draw[cn] (e1g) -- (t327b) -- (e1h);
\draw[cn] (e2a) -- (t320e) -- (e2m);
\draw[cn] (e2b) -- (t311f) -- (e2m);
\draw[cn] (e2m) -- (t172d) -- (e2c);
\draw[cn] (e2c) -- (t189f) -- (e2big);
\draw[cn] (e2d) -- (t258t) -- (e2big);
\draw[cn] (e2e) -- (t311g) -- (e2big);
\draw[cn] (e3a) -- (t093f) -- (e3b);
\draw[cn] (b1g) -- (t124b) -- (bm);
\draw[cn] (b2g) -- (t189g) -- (bm);
\draw[cn] (b3g) -- (t311h) -- (bm);
\draw[cn] (b4g) -- (t234d) -- (bm);
\draw[cn] (bm) -- (t093g) -- (b5g);
\draw[cn] (dm) -- (t311i) -- (dd1);
\draw[cn] (dd1) -- (t189h) -- (t278f) -- (t304) -- (dd2);
\draw[cn] (dm) -- (t319) -- (dd3);
\draw[cn] (dm) -- (t111b) -- (dd4);
\draw[cn] (dm) -- (t256c) -- (dd5);
\draw[cn] (dm) -- (t093h) -- (dd6);
\draw[cn] (dm) -- (t288) -- (dd7);
\draw[cn] (fm) -- (t292) -- (f2);
\draw[cn] (f1) -- (t295) -- (t129h) -- (f2);
\draw[cn] (f3) -- (t093i) -- (f2);
\draw[cn] (f2) -- (t274b) -- (f4);
% ---------- legend ----------
\fill[lgd] (1297,845) rectangle (1424,1070);
\foreach \i/\col/\txt in {0/ye/NORTHERN, 1/bl/WEST, 2/wc/WEST-CENTRAL, 3/gn/EASTERN, 4/og/SOUTHEAST, 5/pk/SOUTH, 6/rd/AMERICA, 7/wh/EURASIA}{
  \node[circle, draw=black!55, line width=0.8pt, fill=\col, minimum size=21pt, inner sep=0pt] (lc\i) at (1311,{863+27*\i}) {};
  \node[anchor=west, font=\bfseries\fontsize{10.5}{12}\selectfont, inner sep=0pt] (lt\i) at (1330,{863+27*\i}) {\txt};
}
\end{tikzpicture}
\end{document}
